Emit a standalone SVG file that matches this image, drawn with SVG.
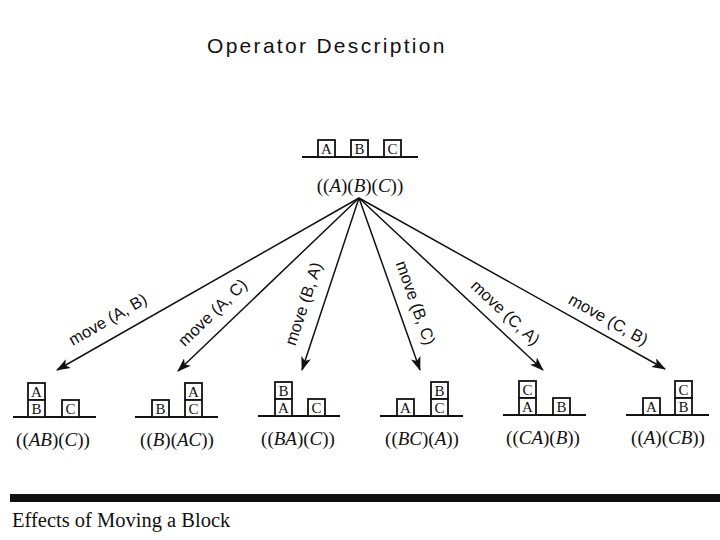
<svg xmlns="http://www.w3.org/2000/svg" width="720" height="540" viewBox="0 0 720 540">
<style>
.blk rect{fill:#fff;stroke:#111;stroke-width:1.8}
.blk text{font-family:"Liberation Serif",serif;font-size:15px;fill:#111;text-anchor:middle}
.ground{stroke:#111;stroke-width:1.8}
.state{font-family:"Liberation Serif",serif;font-size:19px;fill:#111;text-anchor:middle}
.state tspan.i{font-style:italic}
.edge{stroke:#111;stroke-width:1.5;fill:none;marker-end:url(#ah)}
.elab{font-family:"Liberation Sans","Open Sans",sans-serif;font-size:16.5px;fill:#111;text-anchor:middle}
.title{font-family:"Liberation Sans",Arial,sans-serif;font-size:21px;fill:#111}
.caption{font-family:"Liberation Serif",serif;font-size:20.5px;fill:#111}
</style>
<defs>
<marker id="ah" viewBox="0 0 14 10" refX="13" refY="5" markerWidth="14" markerHeight="10" markerUnits="userSpaceOnUse" orient="auto">
<path d="M0,0 L14,5 L0,10 L3.5,5 Z" fill="#111"/>
</marker>
</defs>
<rect width="720" height="540" fill="#fff"/>
<text class="title" x="207" y="53" letter-spacing="2.3">Operator Description</text>

<g id="root">
<line class="ground" x1="302" y1="157" x2="418" y2="157"/>
<g class="blk">
<rect x="318" y="140" width="17" height="17"/><text x="326.5" y="154">A</text>
<rect x="351" y="140" width="17" height="17"/><text x="359.5" y="154">B</text>
<rect x="384" y="140" width="17" height="17"/><text x="392.5" y="154">C</text>
</g>
<text class="state" x="360" y="192">((<tspan class="i">A</tspan>)(<tspan class="i">B</tspan>)(<tspan class="i">C</tspan>))</text>
</g>

<g id="connectors">
<line class="edge" x1="359" y1="198" x2="57" y2="370"/>
<line class="edge" x1="359" y1="198" x2="178" y2="371"/>
<line class="edge" x1="359" y1="198" x2="302" y2="370"/>
<line class="edge" x1="359" y1="198" x2="420" y2="370"/>
<line class="edge" x1="359" y1="198" x2="543" y2="370"/>
<line class="edge" x1="359" y1="198" x2="665" y2="369"/>
<text class="elab" transform="translate(108,320) rotate(-30)" y="5">move (A, B)</text>
<text class="elab" transform="translate(213,313) rotate(-44)" y="5">move (A, C)</text>
<text class="elab" transform="translate(304,304) rotate(-71.7)" y="5">move (B, A)</text>
<text class="elab" transform="translate(415,303) rotate(70.5)" y="5">move (B, C)</text>
<text class="elab" transform="translate(505,313) rotate(43)" y="5">move (C, A)</text>
<text class="elab" transform="translate(608,320) rotate(29.2)" y="5">move (C, B)</text>
</g>

<g id="s1">
<line class="ground" x1="13" y1="417" x2="96" y2="417"/>
<g class="blk">
<rect x="28" y="383" width="17" height="17"/><text x="36.5" y="397">A</text>
<rect x="28" y="400" width="17" height="17"/><text x="36.5" y="414">B</text>
<rect x="62" y="400" width="17" height="17"/><text x="70.5" y="414">C</text>
</g>
<text class="state" x="53" y="446">((<tspan class="i">AB</tspan>)(<tspan class="i">C</tspan>))</text>
</g>

<g id="s2">
<line class="ground" x1="135" y1="417" x2="218" y2="417"/>
<g class="blk">
<rect x="152" y="400" width="17" height="17"/><text x="160.5" y="414">B</text>
<rect x="185" y="383" width="17" height="17"/><text x="193.5" y="397">A</text>
<rect x="185" y="400" width="17" height="17"/><text x="193.5" y="414">C</text>
</g>
<text class="state" x="177" y="446">((<tspan class="i">B</tspan>)(<tspan class="i">AC</tspan>))</text>
</g>

<g id="s3">
<line class="ground" x1="258" y1="416" x2="340" y2="416"/>
<g class="blk">
<rect x="275" y="382" width="17" height="17"/><text x="283.5" y="396">B</text>
<rect x="275" y="399" width="17" height="17"/><text x="283.5" y="413">A</text>
<rect x="308" y="399" width="17" height="17"/><text x="316.5" y="413">C</text>
</g>
<text class="state" x="298" y="445">((<tspan class="i">BA</tspan>)(<tspan class="i">C</tspan>))</text>
</g>

<g id="s4">
<line class="ground" x1="380" y1="416" x2="463" y2="416"/>
<g class="blk">
<rect x="397" y="399" width="17" height="17"/><text x="405.5" y="413">A</text>
<rect x="431" y="382" width="17" height="17"/><text x="439.5" y="396">B</text>
<rect x="431" y="399" width="17" height="17"/><text x="439.5" y="413">C</text>
</g>
<text class="state" x="422" y="445">((<tspan class="i">BC</tspan>)(<tspan class="i">A</tspan>))</text>
</g>

<g id="s5">
<line class="ground" x1="503" y1="415" x2="586" y2="415"/>
<g class="blk">
<rect x="519" y="381" width="17" height="17"/><text x="527.5" y="395">C</text>
<rect x="519" y="398" width="17" height="17"/><text x="527.5" y="412">A</text>
<rect x="553" y="398" width="17" height="17"/><text x="561.5" y="412">B</text>
</g>
<text class="state" x="543" y="444">((<tspan class="i">CA</tspan>)(<tspan class="i">B</tspan>))</text>
</g>

<g id="s6">
<line class="ground" x1="626" y1="415" x2="709" y2="415"/>
<g class="blk">
<rect x="643" y="398" width="17" height="17"/><text x="651.5" y="412">A</text>
<rect x="675" y="381" width="17" height="17"/><text x="683.5" y="395">C</text>
<rect x="675" y="398" width="17" height="17"/><text x="683.5" y="412">B</text>
</g>
<text class="state" x="668" y="444">((<tspan class="i">A</tspan>)(<tspan class="i">CB</tspan>))</text>
</g>

<rect x="10" y="494" width="710" height="8" fill="#111"/>
<text class="caption" x="12" y="527">Effects of Moving a Block</text>
</svg>
